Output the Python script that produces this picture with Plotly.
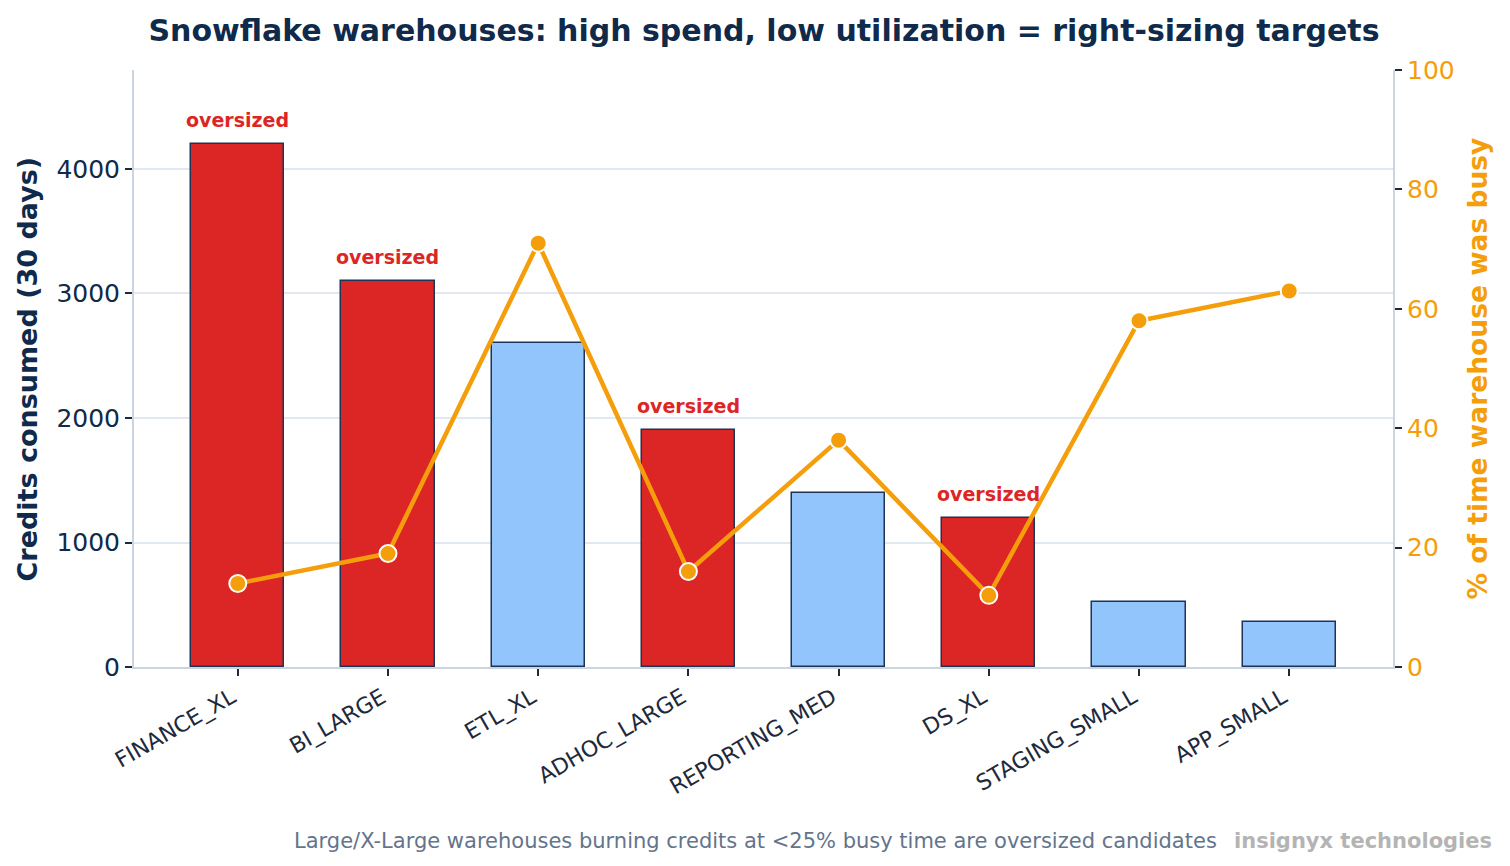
import plotly.graph_objects as go

warehouses = ["FINANCE_XL", "BI_LARGE", "ETL_XL", "ADHOC_LARGE",
              "REPORTING_MED", "DS_XL", "STAGING_SMALL", "APP_SMALL"]
credits = [4200, 3100, 2600, 1900, 1400, 1200, 520, 360]
busy_pct = [14, 19, 71, 16, 38, 12, 58, 63]

left_ticks = [0, 1000, 2000, 3000, 4000]
right_ticks = [0, 20, 40, 60, 80, 100]

RED = "#dc2626"
BLUE = "#93c5fd"
EDGE = "#1e3355"
AMBER = "#f59e0b"
NAVY = "#0f2a4a"
FONT = "DejaVu Sans"

oversized = [(w.endswith("_XL") or w.endswith("_LARGE")) and b < 25
             for w, b in zip(warehouses, busy_pct)]
xs = list(range(len(warehouses)))

fig = go.Figure()
fig.add_trace(go.Bar(
    x=xs, y=credits, width=0.62,
    marker=dict(color=[RED if o else BLUE for o in oversized],
                line=dict(color=EDGE, width=1.5)),
    yaxis="y", showlegend=False, hoverinfo="skip",
))
fig.add_trace(go.Scatter(
    x=xs, y=busy_pct, yaxis="y2", mode="lines+markers",
    line=dict(color=AMBER, width=4.5),
    marker=dict(size=17, color=AMBER, line=dict(color="white", width=2)),
    showlegend=False, hoverinfo="skip",
))

annotations = []
for i, (c, o) in enumerate(zip(credits, oversized)):
    if o:
        annotations.append(dict(
            x=i, y=c, xref="x", yref="y", text="<b>oversized</b>",
            showarrow=False, yanchor="bottom", yshift=11,
            font=dict(family=FONT, size=19, color=RED)))

annotations += [
    dict(text="<b>Credits consumed (30 days)</b>", textangle=-90,
         xref="paper", yref="paper", x=-0.0842, y=0.5,
         xanchor="center", yanchor="middle", showarrow=False,
         font=dict(family=FONT, size=27, color=NAVY)),
    dict(text="<b>% of time warehouse was busy</b>", textangle=-90,
         xref="paper", yref="paper", x=1.0675, y=0.5,
         xanchor="center", yanchor="middle", showarrow=False,
         font=dict(family=FONT, size=26.5, color=AMBER)),
    dict(text="Large/X-Large warehouses burning credits at &lt;25% busy time are oversized candidates",
         xref="paper", yref="paper", x=(755 - 134) / 1259, y=-(841 - 667) / 597,
         xanchor="center", yanchor="middle", showarrow=False,
         font=dict(family=FONT, size=21, color="#64748b")),
    dict(text="<b>insignyx technologies</b>",
         xref="paper", yref="paper", x=(1494 - 134) / 1259, y=-(841 - 667) / 597,
         xanchor="right", yanchor="middle", showarrow=False,
         font=dict(family=FONT, size=21, color="#b4b4b4")),
]

fig.update_layout(
    width=1510, height=866,
    margin=dict(l=134, r=117, t=70, b=199),
    paper_bgcolor="white", plot_bgcolor="white",
    font=dict(family=FONT, color=NAVY),
    title=dict(text="<b>Snowflake warehouses: high spend, low utilization = right-sizing targets</b>",
               x=764 / 1510, xanchor="center", y=1 - 30 / 866, yanchor="middle",
               font=dict(family=FONT, size=30, color=NAVY)),
    bargap=0,
    xaxis=dict(range=[-0.691, 7.691], tickvals=xs, ticktext=warehouses,
               tickangle=-30, tickfont=dict(family=FONT, size=22, color="#1e293b"),
               ticklabelshift=-6, ticklabelstandoff=0,
               showgrid=False, zeroline=False, showline=True, linecolor="#cbd5e1",
               linewidth=2, ticks="outside", ticklen=7, tickwidth=2, tickcolor="#1e293b"),
    yaxis=dict(range=[0, 4795], tickvals=left_ticks,
               tickfont=dict(family=FONT, size=25, color=NAVY),
               showgrid=True, gridcolor="#e2e8f0", gridwidth=1.5, zeroline=False,
               showline=True, linecolor="#cbd5e1", linewidth=2,
               ticks="outside", ticklen=7, tickwidth=2, tickcolor="#1e293b"),
    yaxis2=dict(range=[0, 100], tickvals=right_ticks, overlaying="y", side="right",
                tickfont=dict(family=FONT, size=25, color=AMBER),
                showgrid=False, zeroline=False,
                showline=True, linecolor="#cbd5e1", linewidth=2,
                ticks="outside", ticklen=7, tickwidth=2, tickcolor="#1e293b"),
    annotations=annotations,
)

fig.write_html("out.html")
